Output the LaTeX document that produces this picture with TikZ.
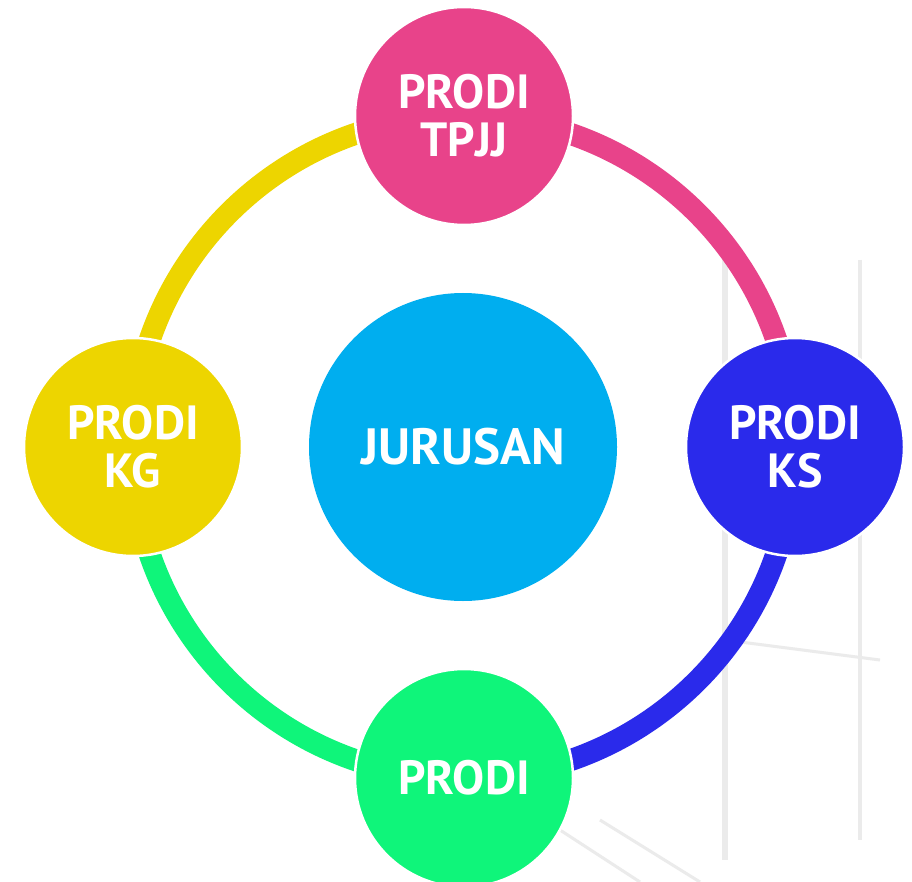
\documentclass[tikz,border=0pt]{standalone}
\usepackage{fontspec}
\setmainfont{PT Sans}
\definecolor{cpink}{HTML}{E8438A}
\definecolor{cblue}{HTML}{2A2AEB}
\definecolor{cgreen}{HTML}{0FF57A}
\definecolor{cyellow}{HTML}{EDD500}
\definecolor{ccyan}{HTML}{00AEEF}
\definecolor{bgline}{HTML}{EBEBEB}
\begin{document}
\begin{tikzpicture}[x=1pt,y=-1pt,
  sat/.style={circle,draw=white,line width=2.5pt,minimum size=218pt,inner sep=0pt,
    text=white,font=\fontsize{48}{48}\selectfont\bfseries,align=center},
  hub/.style={circle,minimum size=308pt,inner sep=0pt,fill=ccyan,
    text=white,font=\fontsize{51}{51}\selectfont\bfseries},
  ring/.style={line width=22pt}]
\useasboundingbox (0,0) rectangle (912,882);
\fill[white] (0,0) rectangle (912,882);
% faint background photo hints
\draw[bgline,line width=6pt] (725,250) -- (725,860);
\draw[bgline,line width=4pt] (860,260) -- (860,840);
\draw[bgline,line width=3pt] (725,640) -- (880,660);
\draw[bgline,line width=3pt] (560,830) -- (640,882);
\draw[bgline,line width=3pt] (600,820) -- (700,882);
% ring
\coordinate (c) at (463,447);
\draw[ring,cpink] ([shift={(c)}]-90:331) arc[start angle=-90,end angle=0,radius=331];
\draw[ring,cblue] ([shift={(c)}]0:331) arc[start angle=0,end angle=90,radius=331];
\draw[ring,cgreen] ([shift={(c)}]90:331) arc[start angle=90,end angle=180,radius=331];
\draw[ring,cyellow] ([shift={(c)}]180:331) arc[start angle=180,end angle=270,radius=331];
% nodes
\node[hub] (hub) at (c) {JURUSAN};
\node[sat,fill=cpink] (top) at (464,116) {PRODI\\TPJJ};
\node[sat,fill=cblue] (right) at (795,447) {PRODI\\KS};
\node[sat,fill=cgreen] (bottom) at (464,778) {PRODI};
\node[sat,fill=cyellow] (left) at (133,447) {PRODI\\KG};
\end{tikzpicture}
\end{document}
